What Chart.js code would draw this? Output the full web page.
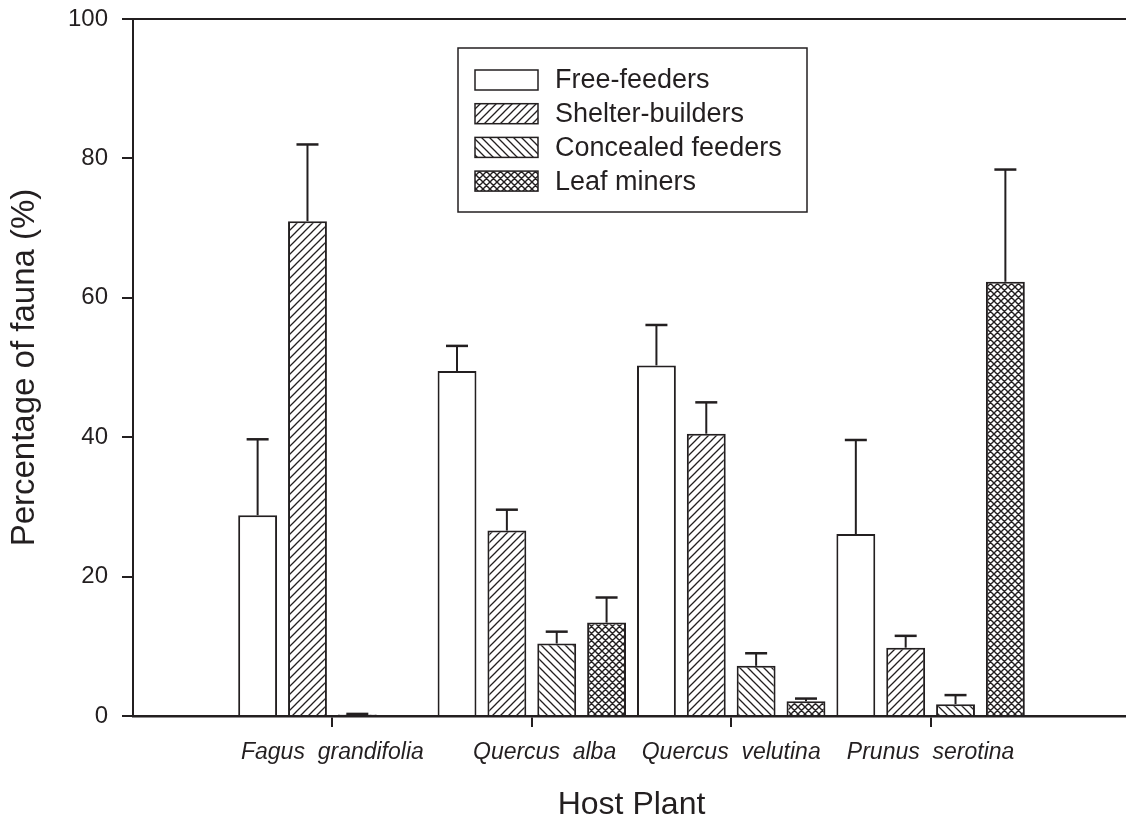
<!DOCTYPE html>
<html>
<head>
<meta charset="utf-8">
<script src="https://cdn.jsdelivr.net/npm/chart.js@4.4.1/dist/chart.umd.min.js"></script>
<style>
  html, body { margin: 0; padding: 0; background: #fff; overflow: hidden; }
  #wrap { width: 1140px; height: 818px; }
</style>
</head>
<body>
<div id="wrap"><canvas id="chart" width="1140" height="818"></canvas></div>
<script>
// empty slots at both ends keep the plant groups away from the axes
const hostPlants = ['', 'Fagus  grandifolia', '    Quercus  alba', 'Quercus  velutina', 'Prunus  serotina', ''];
const guildNames = ['Free-feeders', 'Shelter-builders', 'Concealed feeders', 'Leaf miners'];

const freeFeeders      = [null, 28.8, 49.5, 50.3, 26.1, null];
const shelterBuilders  = [null, 71.0, 26.6, 40.5, 9.8, null];
const concealedFeeders = [null, 0.2, 10.4, 7.2, 1.7, null];
const leafMiners       = [null, null, 13.4, 2.1, 62.3, null];

// top of each error bar (mean + SE)
const freeFeedersTop      = [null, 39.7, 53.1, 56.1, 39.6, null];
const shelterBuildersTop  = [null, 82.0, 29.6, 45.0, 11.5, null];
const concealedFeedersTop = [null, 0.3, 12.1, 9.0, 3.0, null];
const leafMinersTop       = [null, null, 17.0, 2.5, 78.4, null];

const yTicks = [0, 20, 40, 60, 80, 100];

const INK = '#231f20';
const FONT = '"Liberation Sans", Arial, sans-serif';

function hatch(kind) {
    const s = kind === 'cross' ? 7 : 8;
    const c = document.createElement('canvas');
    c.width = s; c.height = s;
    const g = c.getContext('2d');
    g.fillStyle = '#fff';
    g.fillRect(0, 0, s, s);
    g.strokeStyle = INK;
    g.lineWidth = kind === 'cross' ? 1.4 : 1.3;
    g.beginPath();
    if (kind === 'fwd' || kind === 'cross') {
        g.moveTo(-1, s + 1); g.lineTo(s + 1, -1);
        g.moveTo(-1, 1); g.lineTo(1, -1);
        g.moveTo(s - 1, s + 1); g.lineTo(s + 1, s - 1);
    }
    if (kind === 'back' || kind === 'cross') {
        g.moveTo(-1, -1); g.lineTo(s + 1, s + 1);
        g.moveTo(s - 1, -1); g.lineTo(s + 1, 1);
        g.moveTo(-1, s - 1); g.lineTo(1, s + 1);
    }
    g.stroke();
    return g.createPattern(c, 'repeat');
}

const fills = ['#ffffff', hatch('fwd'), hatch('back'), hatch('cross')];
const seriesValues = [freeFeeders, shelterBuilders, concealedFeeders, leafMiners];
const seriesTops = [freeFeedersTop, shelterBuildersTop, concealedFeedersTop, leafMinersTop];

// error bars, upward only, with caps
const errorBars = {
    id: 'errorBars',
    afterDatasetsDraw(chart) {
        const ctx = chart.ctx;
        const y = chart.scales.y;
        ctx.save();
        ctx.strokeStyle = INK;
        chart.data.datasets.forEach((ds, di) => {
            const meta = chart.getDatasetMeta(di);
            meta.data.forEach((bar, i) => {
                const top = seriesTops[di][i];
                if (top == null || ds.data[i] == null) return;
                const yTop = y.getPixelForValue(top);
                const yBar = y.getPixelForValue(ds.data[i]);
                ctx.lineWidth = 2;
                ctx.beginPath();
                ctx.moveTo(bar.x, yBar);
                ctx.lineTo(bar.x, yTop);
                ctx.stroke();
                ctx.lineWidth = 2.5;
                ctx.beginPath();
                ctx.moveTo(bar.x - 11, yTop);
                ctx.lineTo(bar.x + 11, yTop);
                ctx.stroke();
            });
        });
        ctx.restore();
    }
};

// top frame line and boxed legend
const frame = {
    id: 'frame',
    afterDraw(chart) {
        const ctx = chart.ctx;
        const a = chart.chartArea;
        ctx.save();
        ctx.strokeStyle = INK;
        ctx.lineWidth = 2;
        ctx.beginPath();
        ctx.moveTo(a.left, a.top);
        ctx.lineTo(a.right + 20, a.top);
        ctx.stroke();

        const bx = a.left + 325, by = a.top + 29, bw = 349, bh = 164;
        ctx.lineWidth = 1.5;
        ctx.fillStyle = '#fff';
        ctx.fillRect(bx, by, bw, bh);
        ctx.strokeRect(bx, by, bw, bh);

        ctx.font = '27px ' + FONT;
        ctx.textBaseline = 'middle';
        guildNames.forEach((name, i) => {
            const cy = by + 32 + i * 33.7;
            ctx.fillStyle = fills[i];
            ctx.fillRect(bx + 17, cy - 10, 63, 20);
            ctx.lineWidth = 1.5;
            ctx.strokeRect(bx + 17, cy - 10, 63, 20);
            ctx.fillStyle = INK;
            ctx.fillText(name, bx + 97, cy + 1);
        });
        ctx.restore();
    }
};

new Chart(document.getElementById('chart'), {
    type: 'bar',
    data: {
        labels: hostPlants,
        datasets: guildNames.map((name, i) => ({
            label: name,
            data: seriesValues[i],
            backgroundColor: fills[i],
            borderColor: INK,
            borderWidth: 2,
            borderSkipped: 'bottom',
            categoryPercentage: 1.0,
            barPercentage: 0.78
        }))
    },
    options: {
        responsive: false,
        animation: false,
        devicePixelRatio: 1,
        layout: { padding: { top: 19, right: 10, left: 0, bottom: 0 } },
        plugins: {
            legend: { display: false },
            tooltip: { enabled: false }
        },
        scales: {
            x: {
                offset: false,
                grid: {
                    offset: false,
                    drawOnChartArea: false,
                    drawTicks: true,
                    tickLength: 11,
                    lineWidth: 2,
                    color: (c) => (c.index === 0 || c.index === hostPlants.length - 1) ? 'rgba(0,0,0,0)' : INK
                },
                border: { display: true, color: INK, width: 2.5 },
                ticks: {
                    color: INK,
                    padding: 12,
                    maxRotation: 0,
                    autoSkip: false,
                    font: { family: FONT, size: 23, style: 'italic' }
                },
                title: {
                    display: true,
                    text: 'Host Plant',
                    color: INK,
                    font: { family: FONT, size: 32 },
                    padding: { top: 0, bottom: -6 }
                },
                afterFit(scale) {
                    scale.height = 102;
                    scale.paddingLeft = 0;
                    scale.paddingRight = 0;
                }
            },
            y: {
                min: 0,
                max: 100,
                afterBuildTicks(scale) { scale.ticks = yTicks.map(v => ({ value: v })); },
                grid: {
                    drawOnChartArea: false,
                    drawTicks: true,
                    tickLength: 11,
                    lineWidth: 2,
                    color: INK
                },
                border: { display: true, color: INK, width: 2 },
                ticks: {
                    color: INK,
                    padding: 14,
                    font: { family: FONT, size: 24 }
                },
                title: {
                    display: true,
                    text: 'Percentage of fauna (%)',
                    color: INK,
                    font: { family: FONT, size: 33 },
                    padding: { top: 5, bottom: 0 }
                },
                afterFit(scale) {
                    scale.width = 133;
                    scale.paddingTop = 0;
                    scale.paddingBottom = 0;
                }
            }
        }
    },
    plugins: [errorBars, frame]
});
</script>
</body>
</html>
